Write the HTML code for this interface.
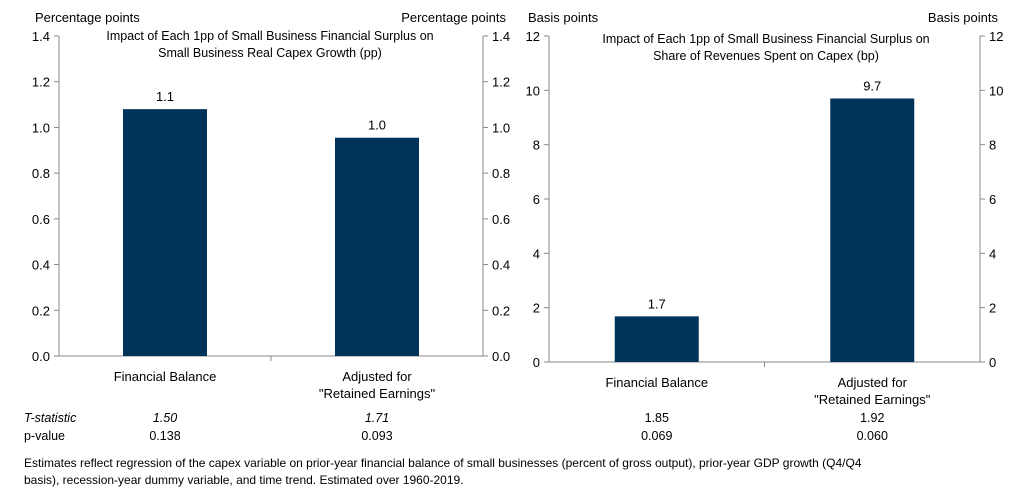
<!DOCTYPE html>
<html><head><meta charset="utf-8"><style>
body{margin:0;background:#fff;width:1016px;height:491px;overflow:hidden;font-family:"Liberation Sans",sans-serif;}
svg text{font-family:"Liberation Sans",sans-serif;fill:#000;}
</style></head><body>
<svg id="c" width="1016" height="491" viewBox="0 0 1016 491">
<text x="35" y="22" font-size="13">Percentage points</text>
<text x="506" y="22" font-size="13" text-anchor="end">Percentage points</text>
<text x="528" y="22" font-size="13">Basis points</text>
<text x="998" y="22" font-size="13" text-anchor="end">Basis points</text>
<text x="270" y="40" font-size="12.5" text-anchor="middle">Impact of Each 1pp of Small Business Financial Surplus on</text>
<text x="270" y="57" font-size="12.5" text-anchor="middle">Small Business Real Capex Growth (pp)</text>
<text x="766" y="43" font-size="12.5" text-anchor="middle">Impact of Each 1pp of Small Business Financial Surplus on</text>
<text x="766" y="60" font-size="12.5" text-anchor="middle">Share of Revenues Spent on Capex (bp)</text>
<g id="g"></g>
<g font-size="12.5">
<text x="24" y="422" font-style="italic">T-statistic</text>
<text x="24" y="440">p-value</text>
</g>
<text x="24" y="467" font-size="12">Estimates reflect regression of the capex variable on prior-year financial balance of small businesses (percent of gross output), prior-year GDP growth (Q4/Q4</text>
<text x="24" y="484" font-size="12">basis), recession-year dummy variable, and time trend. Estimated over 1960-2019.</text>
</svg>
<script>
const leftValues=[1.08,0.955];
const leftLabels=["1.1","1.0"];
const leftTicks=["0.0","0.2","0.4","0.6","0.8","1.0","1.2","1.4"];
const rightValues=[1.68,9.7];
const rightLabels=["1.7","9.7"];
const rightTicks=["0","2","4","6","8","10","12"];
const categories=[["Financial Balance"],["Adjusted for","\"Retained Earnings\""]];
const leftTstat=["1.50","1.71"];
const leftPval=["0.138","0.093"];
const rightTstat=["1.85","1.92"];
const rightPval=["0.069","0.060"];
const NS="http://www.w3.org/2000/svg";
const g=document.getElementById('g');
function mk(t,a,txt){const e=document.createElementNS(NS,t);for(const k in a)e.setAttribute(k,a[k]);if(txt!==undefined)e.textContent=txt;g.appendChild(e);return e;}
function chart(p){
  const y=v=>p.y0-(v/p.max)*(p.y0-p.y1);
  const cw=(p.x1-p.x0)/2;
  const ax=mk('path',{d:`M${p.x0},${p.y1}V${p.y0}H${p.x1}V${p.y1}`,stroke:'#888',fill:'none','stroke-width':1});
  
  
  const div=mk('line',{x1:p.x0+cw,x2:p.x0+cw,y1:p.y0,y2:p.y0+5,stroke:'#888'});
  
  
  p.ticks.forEach(t=>{
    const v=parseFloat(t),yy=y(v);
    mk('line',{x1:p.x0-5,x2:p.x0,y1:yy,y2:yy,stroke:'#888'});
    mk('line',{x1:p.x1,x2:p.x1+5,y1:yy,y2:yy,stroke:'#888'});
    const a=mk('text',{x:p.x0-9,y:yy+5,'font-size':13,'text-anchor':'end'},t);
    
    
    const b=mk('text',{x:p.x1+9,y:yy+5,'font-size':13},t);
    
    
  });
  p.vals.forEach((v,i)=>{
    const cx=p.x0+cw*(i+0.5);
    const r=mk('rect',{x:cx-42,y:y(v),width:84,height:p.y0-y(v),fill:'#003359'});
    
    
    const l=mk('text',{x:cx,y:y(v)-8,'font-size':13,'text-anchor':'middle'},p.labels[i]);
    
    
    categories[i].forEach((s,j)=>{
      const c=mk('text',{x:cx,y:p.y0+25+j*17,'font-size':13,'text-anchor':'middle'},s);
      
      
    });
    const t=mk('text',{x:cx,y:422,'font-size':12.5,'text-anchor':'middle','font-style':p.it?'italic':'normal'},p.ts[i]);
    
    
    const q=mk('text',{x:cx,y:440,'font-size':12.5,'text-anchor':'middle'},p.pv[i]);
    
    
  });
}
chart({n:'left',x0:59,x1:483,y0:356,y1:36,max:1.4,vals:leftValues,labels:leftLabels,ticks:leftTicks,ts:leftTstat,pv:leftPval,it:true});
chart({n:'right',x0:549,x1:980,y0:362,y1:36,max:12,vals:rightValues,labels:rightLabels,ticks:rightTicks,ts:rightTstat,pv:rightPval,it:false});
</script>
</body></html>
